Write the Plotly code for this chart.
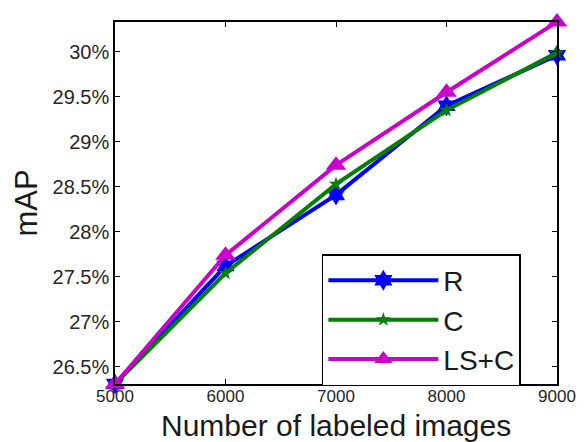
import plotly.graph_objects as go

x_vals = [5000, 6000, 7000, 8000, 9000]
r_vals = [26.31, 27.62, 28.41, 29.40, 29.96]
c_vals = [26.31, 27.54, 28.53, 29.35, 29.99]
lsc_vals = [26.31, 27.74, 28.74, 29.55, 30.33]
y_ticks = [26.5, 27, 27.5, 28, 28.5, 29, 29.5, 30]
y_ticklabels = ["26.5%", "27%", "27.5%", "28%", "28.5%", "29%", "29.5%", "30%"]
x_ticks = [5000, 6000, 7000, 8000, 9000]
x_title = "Number of labeled images"
y_title = "mAP"

fig = go.Figure()
fig.add_trace(go.Scatter(x=x_vals, y=r_vals, name="R", mode="lines+markers",
                         line=dict(color="#0000FF", width=4),
                         marker=dict(symbol="hexagram", size=16, color="#0000FF"),
                         cliponaxis=False))
fig.add_trace(go.Scatter(x=x_vals, y=c_vals, name="C", mode="lines+markers",
                         line=dict(color="#008000", width=4),
                         marker=dict(symbol="star", size=11, color="#008000"),
                         cliponaxis=False))
fig.add_trace(go.Scatter(x=x_vals, y=lsc_vals, name="LS+C", mode="lines+markers",
                         line=dict(color="#CC00CC", width=4),
                         marker=dict(symbol="triangle-up", size=18, color="#CC00CC"),
                         cliponaxis=False))

font_family = "Liberation Sans, Arial, sans-serif"
fig.update_layout(
    width=585, height=442,
    margin=dict(l=115, r=28, t=22, b=58),
    paper_bgcolor="white", plot_bgcolor="white",
    font=dict(family=font_family, color="#1a1a1a"),
    showlegend=True,
    legend=dict(x=0.468, y=0.359, xanchor="left", yanchor="top",
                bordercolor="black", borderwidth=1.5, bgcolor="white",
                font=dict(size=28, family=font_family, color="#1a1a1a"),
                itemwidth=110, tracegroupgap=0),
)
fig.add_annotation(text=x_title, xref="paper", yref="paper", x=0.5, y=-0.165,
                   xanchor="center", yanchor="bottom", showarrow=False,
                   font=dict(size=30, color="#1a1a1a"))
fig.update_xaxes(range=[5000, 9000], tickvals=x_ticks,
                 ticktext=[str(v) for v in x_ticks],
                 showgrid=False, zeroline=False, automargin=False,
                 showline=True, linecolor="black", linewidth=1.5, mirror="allticks",
                 ticks="inside", ticklen=5, tickcolor="black", tickwidth=1,
                 ticklabelstandoff=-4,
                 tickfont=dict(size=17, color="#262626"))
fig.update_yaxes(range=[26.31, 30.33], tickvals=y_ticks, ticktext=y_ticklabels,
                 showgrid=False, zeroline=False, automargin=False,
                 showline=True, linecolor="black", linewidth=1.5, mirror="allticks",
                 ticks="inside", ticklen=5, tickcolor="black", tickwidth=1,
                 tickfont=dict(size=20, color="#262626"),
                 title=dict(text=y_title, font=dict(size=31), standoff=6))

fig.write_html("out.html")
